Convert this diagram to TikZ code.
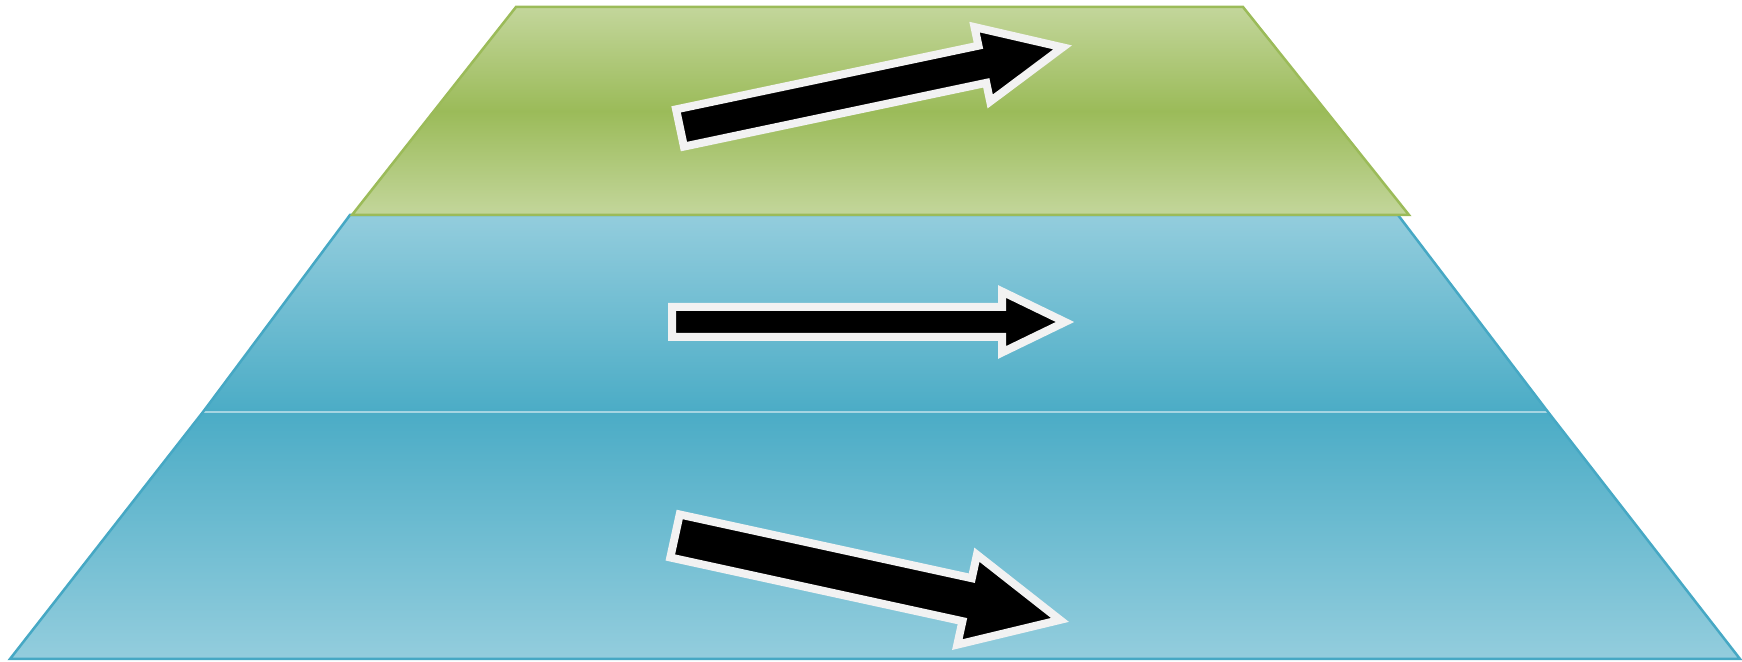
\documentclass[tikz,border=0pt]{standalone}
\usepackage{tikz}
\usetikzlibrary{calc}
\usepackage{xcolor}
\definecolor{greenLight}{HTML}{C3D69B}
\definecolor{greenDark}{HTML}{9BBB59}
\definecolor{blueLight}{HTML}{93CDDD}
\definecolor{blueDark}{HTML}{4BACC6}
\definecolor{blueEdge}{HTML}{46A8C4}
\definecolor{arrowGray}{HTML}{F2F2F2}

\begin{document}
\begin{tikzpicture}[x=0.01cm,y=-0.01cm,
    blockarrow/.style={fill=black,draw=arrowGray,line width=0.08cm}]
  \useasboundingbox (0,0) rectangle (1742,662);

  % 下段（青）
  \shade[top color=blueLight,bottom color=blueDark]
    (350,215) -- (1398,215) -- (1548,412) -- (203,412) -- cycle;
  \shade[top color=blueDark,bottom color=blueLight]
    (203,412) -- (1548,412) -- (1740,659) -- (10,659) -- cycle;
  \draw[white,opacity=0.5,line width=0.4pt] (203,412) -- (1548,412);
  \draw[blueEdge,line width=0.025cm]
    (350,215) -- (1398,215) -- (1548,412) -- (1740,659)
    -- (10,659) -- (203,412) -- cycle;

  % 上段（緑）
  \shade[top color=greenLight,bottom color=greenLight,middle color=greenDark]
    (516,7) -- (1243,7) -- (1409,215) -- (352,215) -- cycle;
  \draw[greenDark,line width=0.025cm]
    (516,7) -- (1243,7) -- (1409,215) -- (352,215) -- cycle;

  % 上向きの矢印
  \begin{scope}[shift={(680,128)},rotate=11.9]
    \draw[blockarrow]
      (0,-19) -- (309,-19) -- (309,-38) -- (391,0)
      -- (309,38) -- (309,19) -- (0,19) -- cycle;
  \end{scope}

  % 水平の矢印
  \begin{scope}[shift={(672,322)}]
    \draw[blockarrow]
      (0,-15) -- (330,-15) -- (330,-30.5) -- (393,0)
      -- (330,30.5) -- (330,15) -- (0,15) -- cycle;
  \end{scope}

  % 下向きの矢印
  \begin{scope}[shift={(675,536)},rotate=-12.3]
    \draw[blockarrow]
      (0,-22) -- (299,-22) -- (299,-46) -- (394,0)
      -- (299,46) -- (299,22) -- (0,22) -- cycle;
  \end{scope}
\end{tikzpicture}
\end{document}
